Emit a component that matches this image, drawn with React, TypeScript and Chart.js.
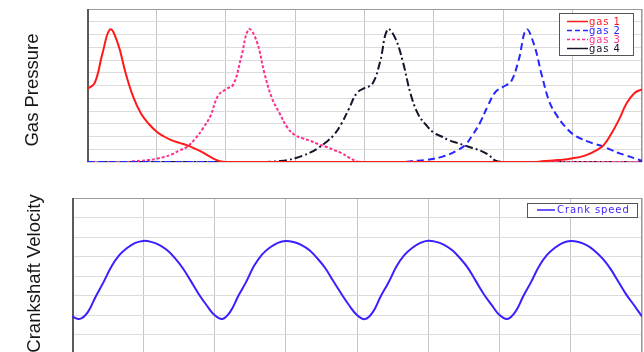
import React, { useEffect, useRef } from 'react';
import { Chart, registerables } from 'chart.js';

Chart.register(...registerables);

// crank angle in degrees (x axis), one sample every 10 degrees
const angles = [
  0, 10, 20, 30, 40, 50, 60, 70, 80, 90,
  100, 110, 120, 130, 140, 150, 160, 170, 180, 190,
  200, 210, 220, 230, 240, 250, 260, 270, 280, 290,
  300, 310, 320, 330, 340, 350, 360, 370, 380, 390,
  400, 410, 420, 430, 440, 450, 460, 470, 480, 490,
  500, 510, 520, 530, 540, 550, 560, 570, 580, 590,
  600, 610, 620, 630, 640, 650, 660, 670, 680, 690,
  700, 710, 720,
];

const gas1 = [
  57, 62, 85, 104, 93, 70, 51, 38, 30, 24,
  20, 17, 15, 13, 10.5, 7.5, 4, 1, 0, 0,
  0, 0, 0, 0, 0, 0, 0, 0, 0, 0,
  0, 0, 0, 0, 0, 0, 0, 0, 0, 0,
  0, 0, 0, 0, 0, 0, 0, 0, 0, 0,
  0, 0, 0, 0, 0, 0, 0, 0, 0, 0.5,
  1, 1.5, 2, 3, 4, 6, 9, 13, 22, 33,
  46, 54, 57,
];

const gas2 = [
  0, 0, 0, 0, 0, 0, 0, 0, 0, 0,
  0, 0, 0, 0, 0, 0, 0, 0, 0, 0,
  0, 0, 0, 0, 0, 0, 0, 0, 0, 0,
  0, 0, 0, 0, 0, 0, 0, 0, 0, 0,
  0, 0, 0.5, 1, 1.5, 2.5, 4, 6, 9, 13,
  21, 31, 44, 55, 59, 63, 80, 104, 92, 68,
  47, 36, 28, 22, 18.5, 16, 14, 12, 9.5, 7,
  5, 3, 1,
];

const gas3 = [
  0, 0, 0, 0, 0, 0, 0.5, 1, 1.5, 2.5,
  4, 6, 9, 12, 18, 26, 36, 52, 57, 61,
  82, 104, 95, 70, 50, 38, 27, 21, 18.5, 16.5,
  14, 12, 9.5, 7, 3.5, 0.5, 0, 0, 0, 0,
  0, 0, 0, 0, 0, 0, 0, 0, 0, 0,
  0, 0, 0, 0, 0, 0, 0, 0, 0, 0,
  0, 0, 0, 0, 0, 0, 0, 0, 0, 0,
  0, 0, 0,
];

const gas4 = [
  0, 0, 0, 0, 0, 0, 0, 0, 0, 0,
  0, 0, 0, 0, 0, 0, 0, 0, 0, 0,
  0, 0, 0, 0, 0.3, 0.7, 1.5, 3, 5, 7.5,
  11, 15.5, 21, 30, 42, 54, 58, 61, 78, 104,
  97, 78, 53, 37, 29, 23, 20, 17, 15, 13,
  11, 9, 6, 1, 0, 0, 0, 0, 0, 0,
  0, 0, 0, 0, 0, 0, 0, 0, 0, 0,
  0, 0, 0,
];

const crankSpeed = [
  1.92, 1.8, 2.15, 2.95, 3.7, 4.5, 5.08, 5.45, 5.7, 5.8,
  5.75, 5.6, 5.33, 4.92, 4.4, 3.75, 3.08, 2.5,
  2.0, 1.8, 2.17, 2.97, 3.7, 4.52, 5.1, 5.46, 5.7, 5.8,
  5.74, 5.58, 5.32, 4.9, 4.4, 3.74, 3.1, 2.5,
  2.0, 1.79, 2.15, 2.96, 3.68, 4.5, 5.08, 5.45, 5.7, 5.81,
  5.75, 5.6, 5.33, 4.92, 4.42, 3.75, 3.08, 2.52,
  2.0, 1.8, 2.16, 2.96, 3.7, 4.5, 5.08, 5.45, 5.7, 5.8,
  5.74, 5.58, 5.3, 4.9, 4.38, 3.72, 3.06, 2.5,
  1.93,
];

const gasLabels = ['gas 1', 'gas 2', 'gas 3', 'gas 4'];
const crankLabel = 'Crank speed';
const topTitle = 'Gas Pressure';
const bottomTitle = 'Crankshaft Velocity';

const frame = {
  id: 'frame',
  beforeDatasetsDraw(chart: any) {
    const { ctx, chartArea: a } = chart;
    ctx.save();
    ctx.strokeStyle = '#9a9a9a';
    ctx.lineWidth = 1;
    ctx.strokeRect(a.left + 0.5, a.top + 0.5, a.right - a.left - 1, a.bottom - a.top - 1);
    ctx.strokeStyle = '#5a5a5a';
    ctx.lineWidth = 2;
    ctx.beginPath();
    ctx.moveTo(a.left + 1, a.top);
    ctx.lineTo(a.left + 1, a.bottom);
    ctx.stroke();
    ctx.restore();
  },
};

// rotated axis title drawn beside the plot area
const sideTitle = {
  id: 'sideTitle',
  afterDraw(chart: any, _args: any, o: any) {
    const { ctx, chartArea: a } = chart;
    ctx.save();
    ctx.translate(o.x, (a.top + a.bottom) / 2 + o.dy);
    ctx.rotate(-Math.PI / 2);
    ctx.fillStyle = '#151515';
    ctx.font = '18.5px "Liberation Sans", Arial, sans-serif';
    ctx.textAlign = 'center';
    ctx.textBaseline = 'middle';
    ctx.fillText(o.text, 0, 0);
    ctx.restore();
  },
};

const boxLegend = {
  id: 'boxLegend',
  afterDraw(chart: any, _args: any, o: any) {
    const { ctx } = chart;
    ctx.save();
    ctx.fillStyle = '#ffffff';
    ctx.fillRect(o.x, o.y, o.w, o.h);
    ctx.strokeStyle = '#555555';
    ctx.lineWidth = 1;
    ctx.strokeRect(o.x + 0.5, o.y + 0.5, o.w, o.h);
    chart.data.datasets.forEach((ds: any, i: number) => {
      const cy = o.y + o.firstRow + i * o.rowH;
      ctx.strokeStyle = ds.borderColor;
      ctx.lineWidth = 1.5;
      ctx.setLineDash(ds.legendDash || []);
      ctx.beginPath();
      ctx.moveTo(o.x + o.lineX0, cy);
      ctx.lineTo(o.x + o.lineX1, cy);
      ctx.stroke();
      ctx.setLineDash([]);
      ctx.fillStyle = ds.borderColor;
      ctx.font = '10px "DejaVu Sans", Verdana, sans-serif';
      ctx.textBaseline = 'middle';
      ctx.textAlign = 'left';
      (ctx as any).letterSpacing = '0.9px';
      ctx.fillText(ds.label, o.x + o.textX, cy + 0.5);
    });
    ctx.restore();
  },
};

function makeLine(label: string, data: number[], color: string, dash: number[], legendDash: number[]) {
  return {
    label,
    data,
    borderColor: color,
    backgroundColor: color,
    borderWidth: 2,
    borderDash: dash,
    legendDash,
    pointRadius: 0,
    fill: false,
    tension: 0.4,
  };
}

function axes(yMax: number, yStep: number, yWidth: number) {
  return {
    x: {
      type: 'linear' as const,
      min: 0,
      max: 720,
      ticks: { display: false, stepSize: 90 },
      grid: { color: '#c6c6c6', drawTicks: false },
      border: { display: false },
      afterFit: (s: any) => { s.height = 0; },
    },
    y: {
      min: 0,
      max: yMax,
      ticks: { display: false, stepSize: yStep },
      grid: { color: '#dcdcdc', drawTicks: false },
      border: { display: false },
      afterFit: (s: any) => { s.width = yWidth; },
    },
  };
}

export default function App() {
  const topRef = useRef<HTMLCanvasElement | null>(null);
  const botRef = useRef<HTMLCanvasElement | null>(null);

  useEffect(() => {
    const top = new Chart(topRef.current as HTMLCanvasElement, {
      type: 'line',
      data: {
        labels: angles,
        datasets: [
          makeLine(gasLabels[0], gas1, '#ff1a1a', [], []),
          makeLine(gasLabels[1], gas2, '#2626ff', [7, 4], [5, 3]),
          makeLine(gasLabels[2], gas3, '#ff2e8c', [3, 2], [3, 2]),
          makeLine(gasLabels[3], gas4, '#14142a', [8, 3, 2, 3], []),
        ],
      },
      options: {
        responsive: false,
        animation: false,
        layout: { padding: { left: 0, top: 9, right: 2, bottom: 13 } },
        scales: axes(120, 10, 87),
        plugins: {
          legend: { display: false },
          tooltip: { enabled: false },
          sideTitle: { text: topTitle, x: 33, dy: 4.5 },
          boxLegend: { x: 559, y: 13, w: 74, h: 42, firstRow: 8.5, rowH: 9, lineX0: 8, lineX1: 29, textX: 30 },
        } as any,
      },
      plugins: [frame, sideTitle, boxLegend],
    });

    const bottom = new Chart(botRef.current as HTMLCanvasElement, {
      type: 'line',
      data: {
        labels: angles,
        datasets: [makeLine(crankLabel, crankSpeed, '#3a1fff', [], [])],
      },
      options: {
        responsive: false,
        animation: false,
        layout: { padding: { left: 0, top: 18, right: 2, bottom: 16 } },
        scales: axes(8, 1, 72),
        plugins: {
          legend: { display: false },
          tooltip: { enabled: false },
          sideTitle: { text: bottomTitle, x: 35, dy: -2.5 },
          boxLegend: { x: 527, y: 203 - 180, w: 110, h: 14, firstRow: 7, rowH: 9, lineX0: 10, lineX1: 28, textX: 30 },
        } as any,
      },
      plugins: [frame, sideTitle, boxLegend],
    });

    return () => {
      top.destroy();
      bottom.destroy();
    };
  }, []);

  return (
    <div style={{ position: 'fixed', left: 0, top: 0, width: 644, height: 352, overflow: 'hidden', background: '#fff' }}>
      <canvas ref={topRef} width={644} height={175} style={{ position: 'absolute', left: 0, top: 0, width: 644, height: 175 }} />
      <canvas ref={botRef} width={644} height={190} style={{ position: 'absolute', left: 0, top: 180, width: 644, height: 190 }} />
    </div>
  );
}
